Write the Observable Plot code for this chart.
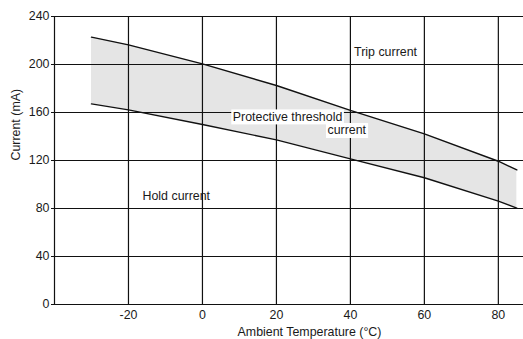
<!DOCTYPE html>
<html><head><meta charset="utf-8">
<script src="https://cdn.jsdelivr.net/npm/d3@7"></script>
<script src="https://cdn.jsdelivr.net/npm/@observablehq/plot@0.6"></script>
<style>
body{margin:0;background:#fff;}
svg{display:block;}
</style>
</head><body><div id="chart"></div>
<script>
// Data
const temperature = [-30, -20, 0, 20, 40, 60, 80, 85];
const tripCurrent = [222.8, 216.4, 200.5, 182.5, 161.8, 142.2, 119.4, 112.2];
const holdCurrent = [167.2, 162.2, 150.0, 137.2, 121.4, 105.6, 86.1, 80.3];

const xTicks = [-20, 0, 20, 40, 60, 80];
const yTicks = [0, 40, 80, 120, 160, 200, 240];
const xDomain = [-40, 86.8];
const yDomain = [0, 240];

const xLabel = "Ambient Temperature (°C)";
const yLabel = "Current (mA)";

const labelText = ["Trip current", "Hold current", "Protective threshold", "current"];
const labelX = [41, -16.2, 8.2, 33.8];
const labelY = [210.3, 90.8, 156.3, 145];
const labelBoxed = [false, false, true, true];

const rows = temperature.map((t, i) => ({t, trip: tripCurrent[i], hold: holdCurrent[i]}));
const labels = labelText.map((s, i) => ({s, x: labelX[i], y: labelY[i], boxed: labelBoxed[i]}));

const ink = "#111";
const textInk = "#1a1a1a";

const chart = Plot.plot({
  width: 523,
  height: 339,
  marginLeft: 54,
  marginRight: 0,
  marginTop: 16,
  marginBottom: 35,
  style: {fontFamily: "'Liberation Sans', Arial, Helvetica, sans-serif", fontSize: "12.4px", color: textInk, background: "#fff"},
  x: {domain: xDomain},
  y: {domain: yDomain},
  marks: [
    Plot.areaY(rows, {x: "t", y1: "hold", y2: "trip", fill: "#e5e5e5"}),
    Plot.ruleY(yTicks, {stroke: ink, strokeWidth: 1.2}),
    Plot.ruleX(xTicks, {stroke: ink, strokeWidth: 1.2}),
    Plot.ruleX([xDomain[0]], {stroke: ink, strokeWidth: 1.2}),
    Plot.lineY(rows, {x: "t", y: "trip", stroke: ink, strokeWidth: 1.4}),
    Plot.lineY(rows, {x: "t", y: "hold", stroke: ink, strokeWidth: 1.4}),
    Plot.axisY(yTicks, {tickSize: 3, tickPadding: 2, label: null, stroke: ink, fill: textInk, tickFormat: d => String(d)}),
    Plot.axisX(xTicks, {tickSize: 0, tickPadding: 6, label: null, fill: textInk, tickFormat: d => String(d)}),
    Plot.text([xLabel], {frameAnchor: "bottom", lineAnchor: "middle", dy: 28, dx: 20.5, fill: textInk}),
    Plot.text([yLabel], {frameAnchor: "left", lineAnchor: "middle", rotate: -90, dx: -38.5, fill: textInk}),
    Plot.text(labels, {x: "x", y: "y", text: "s", textAnchor: "start", lineAnchor: "middle", fill: textInk})
  ]
});
document.getElementById("chart").appendChild(chart);

// white boxes behind the boxed labels
const boxedSet = new Set(labels.filter(d => d.boxed).map(d => d.s));
chart.querySelectorAll("text").forEach(t => {
  if (!boxedSet.has(t.textContent)) return;
  const b = t.getBBox();
  const r = document.createElementNS("http://www.w3.org/2000/svg", "rect");
  r.setAttribute("x", b.x - 1.5);
  r.setAttribute("y", b.y - 0.5);
  r.setAttribute("width", b.width + 3);
  r.setAttribute("height", b.height + 1);
  r.setAttribute("fill", "#fff");
  const tr = t.getAttribute("transform");
  if (tr) r.setAttribute("transform", tr);
  t.parentNode.insertBefore(r, t);
});
</script>
</body></html>
